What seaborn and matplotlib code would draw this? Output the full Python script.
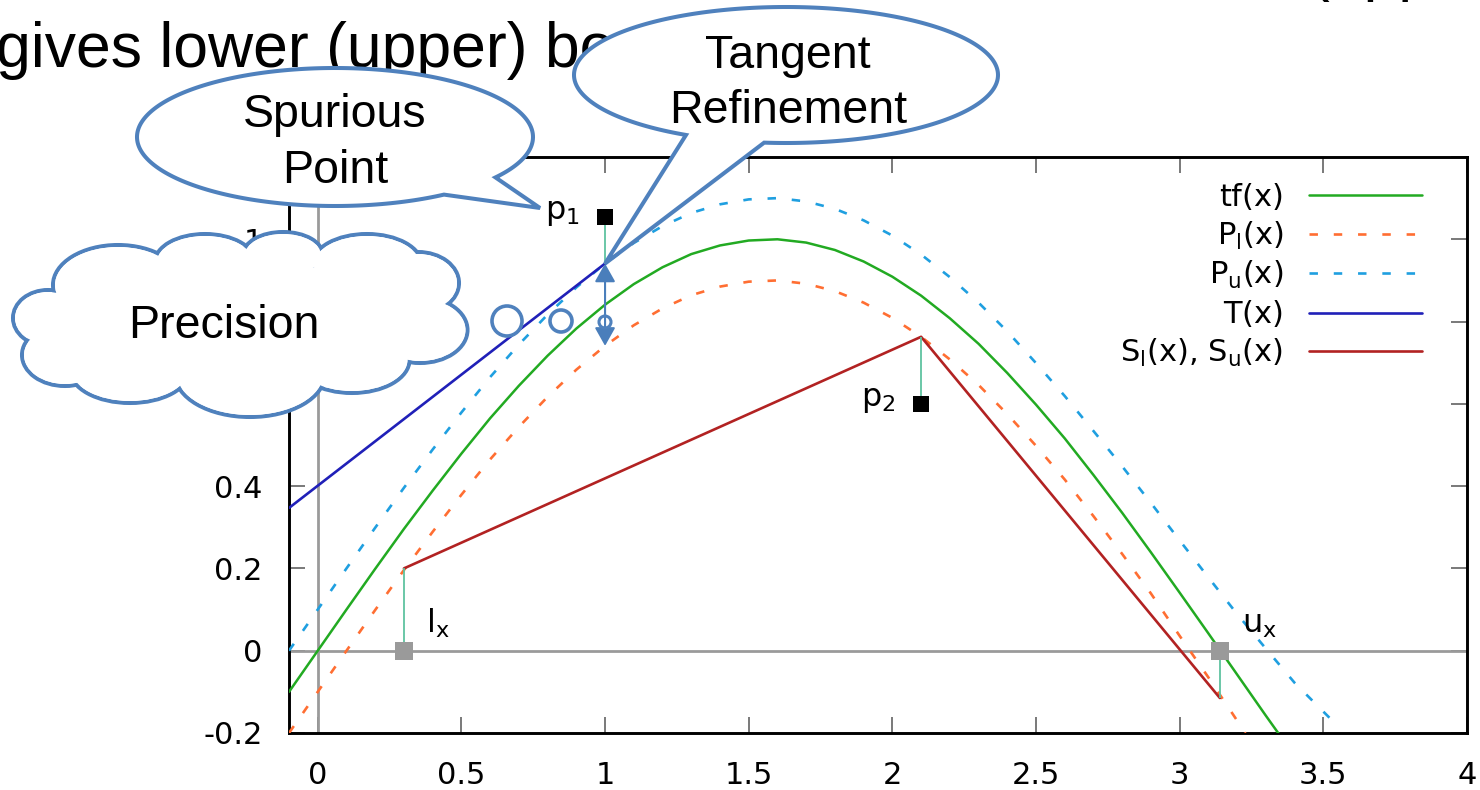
import numpy as np
import matplotlib
matplotlib.use("Agg")
import matplotlib.pyplot as plt
import seaborn as sns
from matplotlib.patches import Ellipse, Circle, PathPatch
from matplotlib.path import Path

# ---------------- data ----------------
tf_x = [-0.1, 0.0, 0.1, 0.2, 0.3, 0.4, 0.5, 0.6, 0.7, 0.8, 0.9, 1.0, 1.1, 1.2,
        1.3, 1.4, 1.5, 1.6, 1.7, 1.8, 1.9, 2.0, 2.1, 2.2, 2.3, 2.4, 2.5, 2.6,
        2.7, 2.8, 2.9, 3.0, 3.1, 3.2, 3.3, 3.4]
tf_y = [-0.100, 0.000, 0.100, 0.199, 0.296, 0.389, 0.479, 0.565, 0.644, 0.717,
        0.783, 0.841, 0.891, 0.932, 0.964, 0.985, 0.997, 1.000, 0.992, 0.974,
        0.946, 0.909, 0.863, 0.808, 0.746, 0.675, 0.598, 0.516, 0.427, 0.335,
        0.239, 0.141, 0.042, -0.058, -0.158, -0.256]

pl_x = [-0.1, 0.0, 0.1, 0.2, 0.3, 0.4, 0.5, 0.6, 0.7, 0.8, 0.9, 1.0, 1.1, 1.2,
        1.3, 1.4, 1.5, 1.6, 1.7, 1.8, 1.9, 2.0, 2.1, 2.2, 2.3, 2.4, 2.5, 2.6,
        2.7, 2.8, 2.9, 3.0, 3.1, 3.2, 3.3]
pl_y = [-0.200, -0.100, 0.000, 0.099, 0.196, 0.289, 0.379, 0.465, 0.544, 0.617,
        0.683, 0.741, 0.791, 0.832, 0.864, 0.885, 0.897, 0.900, 0.892, 0.874,
        0.846, 0.809, 0.763, 0.708, 0.646, 0.575, 0.498, 0.416, 0.327, 0.235,
        0.139, 0.036, -0.065, -0.170, -0.280]

pu_x = [-0.1, 0.0, 0.1, 0.2, 0.3, 0.4, 0.5, 0.6, 0.7, 0.8, 0.9, 1.0, 1.1, 1.2,
        1.3, 1.4, 1.5, 1.6, 1.7, 1.8, 1.9, 2.0, 2.1, 2.2, 2.3, 2.4, 2.5, 2.6,
        2.7, 2.8, 2.9, 3.0, 3.1, 3.2, 3.3, 3.4, 3.5, 3.56]
pu_y = [0.000, 0.100, 0.200, 0.299, 0.396, 0.489, 0.579, 0.665, 0.744, 0.817,
        0.883, 0.941, 0.991, 1.032, 1.064, 1.085, 1.097, 1.100, 1.092, 1.074,
        1.046, 1.009, 0.963, 0.908, 0.846, 0.776, 0.699, 0.619, 0.534, 0.448,
        0.359, 0.268, 0.178, 0.089, 0.005, -0.078, -0.148, -0.190]

t_x = [-0.1, 1.0]
t_y = [0.347, 0.941]

s_x = [0.3, 2.1, 3.14]
s_y = [0.2, 0.763, -0.115]

pts_x = [1.0, 2.1]          # p1, p2
pts_y = [1.055, 0.6]
pts_names = ["p$_1$", "p$_2$"]

bnd_x = [0.3, 3.14]         # l_x, u_x
bnd_y = [0.0, 0.0]
bnd_names = ["l$_x$", "u$_x$"]

seg_x = [0.3, 1.0, 2.1, 3.14]
seg_lo = [0.0, 0.941, 0.6, -0.115]
seg_hi = [0.2, 1.055, 0.763, 0.0]

arrow_x = 1.0
arrow_top = 0.941
arrow_bottom = 0.741

legend_labels = ["tf$(x)$", "P$_l$(x)", "P$_u$(x)", "T$(x)$", "S$_l$(x), S$_u$(x)"]

x_ticks = [0, 0.5, 1, 1.5, 2, 2.5, 3, 3.5, 4]
x_tick_labels = ["0", "0.5", "1", "1.5", "2", "2.5", "3", "3.5", "4"]
y_ticks = [-0.2, 0, 0.2, 0.4, 0.6, 0.8, 1.0, 1.2]
y_tick_labels = ["-0.2", "0", "0.2", "0.4", "0.6", "0.8", "1", "1.2"]

# ---------------- style ----------------
GREEN = "#22aa22"
ORANGE = "#ff6e32"
LBLUE = "#1f9fe0"
DBLUE = "#2020b8"
RED = "#b22222"
TEAL = "#5fc3a0"
GRAY = "#9a9a9a"
CALLOUT = "#4f81bd"

sns.set_theme(style="ticks")
plt.rcParams["font.family"] = ["DejaVu Sans"]
plt.rcParams["mathtext.default"] = "regular"
plt.rcParams["axes.unicode_minus"] = False
plt.rcParams["text.color"] = "black"
plt.rcParams["axes.labelcolor"] = "black"
plt.rcParams["xtick.color"] = "black"
plt.rcParams["ytick.color"] = "black"

W, H = 1480, 790
fig = plt.figure(figsize=(14.8, 7.9), dpi=100)
fig.patch.set_facecolor("white")
ax = fig.add_axes([289 / W, (H - 733) / H, (1467 - 289) / W, (733 - 157) / H])
ax.set_facecolor("white")

ax.axhline(0, color=GRAY, lw=2, zorder=1)
ax.axvline(0, color=GRAY, lw=2, zorder=1)

dash = (0, (3.2, 6.0))
sns.lineplot(x=tf_x, y=tf_y, color=GREEN, lw=1.8, label=legend_labels[0], ax=ax, zorder=3)
sns.lineplot(x=pl_x, y=pl_y, color=ORANGE, lw=1.9, linestyle=dash, label=legend_labels[1], ax=ax, zorder=3)
sns.lineplot(x=pu_x, y=pu_y, color=LBLUE, lw=1.9, linestyle=dash, label=legend_labels[2], ax=ax, zorder=3)
sns.lineplot(x=t_x, y=t_y, color=DBLUE, lw=1.9, label=legend_labels[3], ax=ax, zorder=4)
sns.lineplot(x=s_x, y=s_y, color=RED, lw=1.9, label=legend_labels[4], ax=ax, zorder=4)

ax.vlines(seg_x, seg_lo, seg_hi, colors=TEAL, lw=1.3, zorder=5)

sns.scatterplot(x=pts_x, y=pts_y, marker="s", s=132, color="black", linewidth=0, ax=ax, zorder=6, legend=False)
sns.scatterplot(x=bnd_x, y=bnd_y, marker="s", s=150, color=GRAY, linewidth=0, ax=ax, zorder=6, legend=False)

for xx, yy, name in zip(pts_x, pts_y, pts_names):
    ax.annotate(name, xy=(xx, yy), xytext=(-25, -2), textcoords="offset pixels",
                ha="right", va="baseline", fontsize=23, color="black", zorder=7)
for xx, yy, name in zip(bnd_x, bnd_y, bnd_names):
    ax.annotate(name, xy=(xx, yy), xytext=(22, 18), textcoords="offset pixels",
                ha="left", va="baseline", fontsize=23, color="black", zorder=7)

ax.annotate("", xy=(arrow_x, arrow_bottom), xytext=(arrow_x, arrow_top),
            arrowprops=dict(arrowstyle="<|-|>,head_length=0.8,head_width=0.45",
                            color="#4a7ebb", lw=1.5, shrinkA=0, shrinkB=0,
                            mutation_scale=14), zorder=8)

ax.set_xlim(-0.1, 4.0)
ax.set_ylim(-0.2, 1.2)
ax.set_xticks(x_ticks)
ax.set_xticklabels(x_tick_labels)
ax.set_yticks(y_ticks)
ax.set_yticklabels(y_tick_labels)
ax.tick_params(axis="both", direction="in", length=11.5, width=1.1, color="#555555",
               labelsize=22, labelcolor="black", top=True, right=True)
ax.tick_params(axis="x", pad=20)
ax.tick_params(axis="y", pad=19)
for sp in ax.spines.values():
    sp.set_visible(True)
    sp.set_color("black")
    sp.set_linewidth(2.1)
ax.set_xlabel("")
ax.set_ylabel("")

leg = ax.legend(loc="upper right", bbox_to_anchor=(0.962, 0.958), markerfirst=False,
                frameon=False, fontsize=22, handlelength=3.7, handletextpad=0.85,
                labelspacing=0.24, borderpad=0, borderaxespad=0)
for t in leg.get_texts():
    t.set_color("black")

# ---------------- overlay: slide callouts (pixel coordinates) ----------------
ov = fig.add_axes([0, 0, 1, 1], zorder=10)
ov.set_xlim(0, W)
ov.set_ylim(H, 0)
ov.axis("off")
ov.patch.set_alpha(0)

SANS = ["Liberation Sans", "DejaVu Sans"]
ov.text(-4, 67, "gives lower (upper) bo", fontsize=45, family=SANS, color="black",
        ha="left", va="baseline", zorder=1)
ov.text(1308, -11, "(upper)", fontsize=45, family=SANS, color="black",
        ha="left", va="baseline", zorder=1)

LW = 2.9


def callout(cx, cy, a, b, t_start, t_end, tip, z=3):
    ts = np.linspace(t_start, t_end + 2 * np.pi, 240)
    pts = np.column_stack([cx + a * np.cos(ts), cy + b * np.sin(ts)])
    verts = np.vstack([pts, [tip], pts[:1]])
    codes = [Path.MOVETO] + [Path.LINETO] * len(pts) + [Path.CLOSEPOLY]
    patch = PathPatch(Path(verts, codes), facecolor="white", edgecolor=CALLOUT,
                      lw=LW, joinstyle="miter", zorder=z)
    ov.add_patch(patch)


# tangent point tip from data coordinates
tx, ty = ax.transData.transform((t_x[1], t_y[1]))
tip_tangent = (tx, H - ty)

callout(335, 137, 198, 69, 0.988, 0.626, (540, 208))
callout(786, 75, 212, 68, 2.062, 1.674, tip_tangent)

for txt, x0, y0 in [("Spurious", 335, 127), ("Point", 335, 183),
                    ("Tangent", 788, 68), ("Refinement", 788, 123)]:
    ov.text(x0, y0, txt, fontsize=33.5, family=SANS, color="black",
            ha="center", va="baseline", zorder=8)

# cloud
bumps = [(48, 318, 70, 56), (118, 285, 130, 80), (205, 262, 100, 56), (283, 255, 80, 46),
         (367, 265, 110, 62), (418, 283, 82, 62), (420, 330, 95, 66), (352, 360, 115, 66),
         (250, 374, 150, 86), (130, 370, 120, 66), (65, 355, 86, 62)]
lw_px = LW * 100 / 72
for cx, cy, w, h in bumps:
    ov.add_patch(Ellipse((cx, cy), w, h, facecolor="white", edgecolor=CALLOUT, lw=LW, zorder=4))
for cx, cy, w, h in bumps:
    ov.add_patch(Ellipse((cx, cy), w - lw_px, h - lw_px, facecolor="white", edgecolor="none", zorder=5))
ov.add_patch(Ellipse((240, 322), 360, 120, facecolor="white", edgecolor="none", zorder=5))
ov.text(224, 338, "Precision", fontsize=33.5, family=SANS, color="black",
        ha="center", va="baseline", zorder=8)

# thought bubbles
ov.add_patch(Circle((507, 321), 15, facecolor="white", edgecolor=CALLOUT, lw=2.6, zorder=6))
ov.add_patch(Circle((561, 321), 11, facecolor="white", edgecolor=CALLOUT, lw=2.6, zorder=6))
ov.add_patch(Circle((605, 322), 6, facecolor="none", edgecolor=CALLOUT, lw=2.2, zorder=6))

fig.savefig("out.png", dpi=100, facecolor="white")
